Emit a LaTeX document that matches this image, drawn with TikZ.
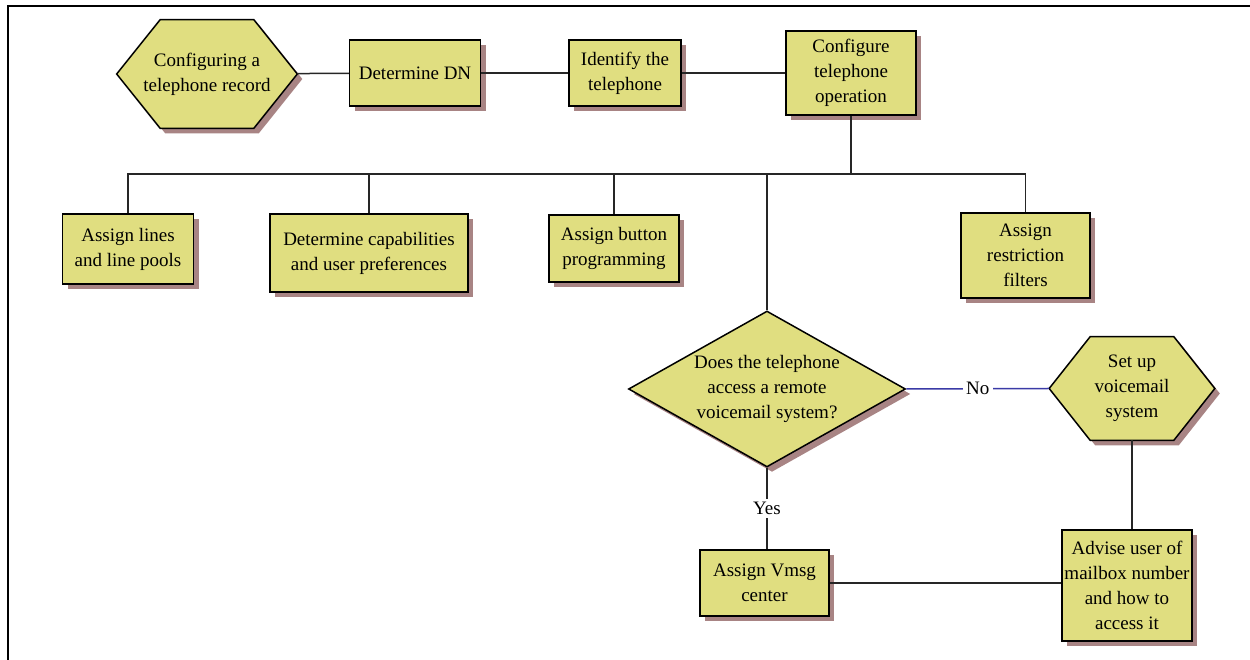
\documentclass[tikz,border=0pt]{standalone}
\usepackage{fontspec}
\setmainfont{Liberation Serif}
\usetikzlibrary{shapes.geometric,shadows,calc,backgrounds}
\definecolor{boxfill}{HTML}{E0DE80}
\definecolor{shadowcol}{HTML}{A88484}
\definecolor{nocol}{HTML}{3A3AA6}
\tikzset{
  txt/.style={align=center, inner sep=0pt, font=\fontsize{11.4}{15}\selectfont},
  base/.style={txt, draw=black, fill=boxfill, line width=0.9pt,
    drop shadow={shadow xshift=3pt, shadow yshift=-3pt, fill=shadowcol, opacity=1}},
  box/.style={base, rectangle},
  hexa/.style={txt, rectangle},
  hexline/.style={draw=black, fill=boxfill, line width=0.9pt},
  decision/.style={base, diamond, aspect=1.776},
  conn/.style={line width=0.9pt, draw=black!85},
  lbl/.style={fill=white, inner sep=2pt, font=\fontsize{11.4}{15}\selectfont},
}
\newcommand{\hexdraw}[2]{%
  \begin{scope}[on background layer]
  \fill[shadowcol, transform canvas={shift={(3pt,-3pt)}}] (#1.west) -- ($(#1.north west)+(#2,0)$) -- ($(#1.north east)+(-#2,0)$) -- (#1.east) -- ($(#1.south east)+(-#2,0)$) -- ($(#1.south west)+(#2,0)$) -- cycle;
  \path[hexline] (#1.west) -- ($(#1.north west)+(#2,0)$) -- ($(#1.north east)+(-#2,0)$) -- (#1.east) -- ($(#1.south east)+(-#2,0)$) -- ($(#1.south west)+(#2,0)$) -- cycle;
  \end{scope}}
\begin{document}
\begin{tikzpicture}[x=0.6pt,y=-0.6pt]
\useasboundingbox (0,0) rectangle (1250,660);
% frame
\draw[line width=1.3pt] (7,6) -- (1250,6);
\draw[line width=1.3pt] (8,6) -- (8,660);

\node[hexa, minimum width=108pt, minimum height=64.8pt] (start) at (207,74) {Configuring a\\telephone record};
\hexdraw{start}{43.5}
\node[box, minimum width=78.6pt, minimum height=39.6pt] (dn) at (415,73) {Determine DN};
\node[box, minimum width=67.2pt, minimum height=39.6pt] (ident) at (625,73) {Identify the\\telephone};
\node[box, minimum width=78pt, minimum height=50.4pt] (conf) at (851,73) {Configure\\telephone\\operation};

\node[box, minimum width=78.6pt, minimum height=42pt] (lines) at (128,249) {Assign lines\\and line pools};
\node[box, minimum width=118.8pt, minimum height=46.8pt] (caps) at (369,253) {Determine capabilities\\and user preferences};
\node[box, minimum width=78pt, minimum height=40.2pt] (button) at (614,248.5) {Assign button\\programming};
\node[box, minimum width=77.4pt, minimum height=51pt] (restr) at (1025.5,255.5) {Assign\\restriction\\filters};

\node[decision, minimum width=166.2pt, minimum height=93.6pt] (diam) at (767,389) {Does the telephone\\access a remote\\voicemail system?};
\node[hexa, minimum width=99pt, minimum height=61.8pt] (setup) at (1132,388.5) {Set up\\voicemail\\system};
\hexdraw{setup}{41}
\node[box, minimum width=78pt, minimum height=66.6pt] (advise) at (1127,585.5) {Advise user of\\mailbox number\\and how to\\access it};
\node[box, minimum width=77.4pt, minimum height=39.6pt] (vmsg) at (764.5,583) {Assign Vmsg\\center};

\coordinate (bus) at (851,174);

\draw[conn] (start) -- (dn);
\draw[conn] (dn) -- (ident);
\draw[conn] (ident) -- (conf);
\draw[conn] (conf) -- (bus);
\draw[conn] (bus) -| (lines);
\draw[conn] (bus) -| (caps);
\draw[conn] (bus) -| (restr);
\draw[conn] (button) |- (diam.north |- bus) -- (diam);
\draw[conn, draw=nocol] (diam.east) -- node[lbl] (no) {No} (setup.west);
\draw[conn] (diam.south) -- node[lbl] (yes) {Yes} (vmsg.north -| diam.south);
\draw[conn] (setup) -- (setup.south |- advise.north);
\draw[conn] (vmsg.east) -- (vmsg.east -| advise.west);
\end{tikzpicture}
\end{document}
